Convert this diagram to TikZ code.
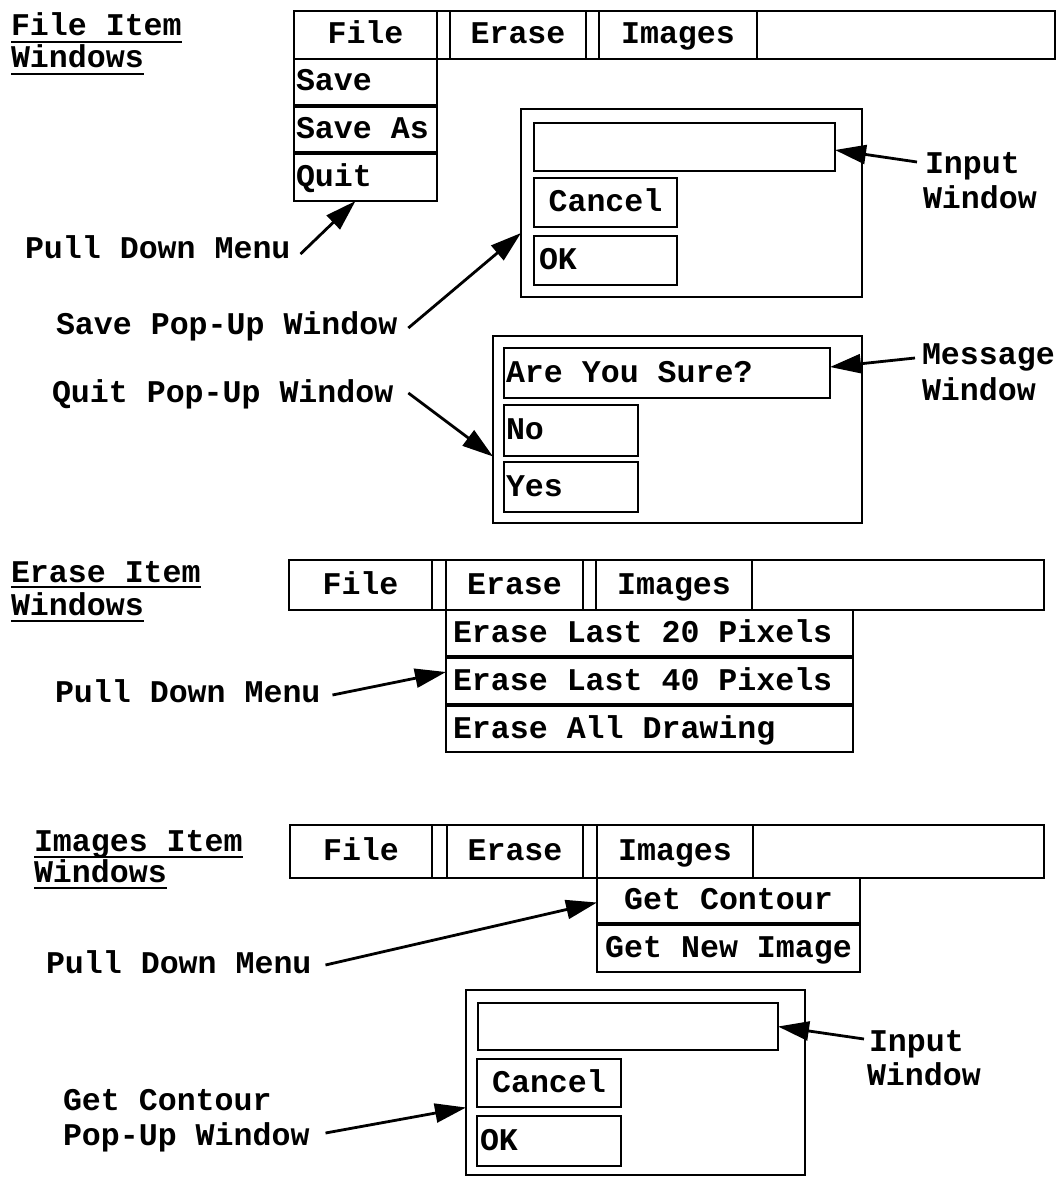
\documentclass[tikz,border=0pt]{standalone}
\usepackage{fontspec}
\usetikzlibrary{arrows.meta}
\newfontfamily\monofam{Liberation Mono}
\newcommand\tfont{\monofam\bfseries\fontsize{31.6pt}{36pt}\selectfont}
\newcommand\lb[2]{\makebox[#1][l]{#2}}
\tikzset{
  bx/.style={draw, line width=2.4pt, outer sep=0pt, inner ysep=0pt, inner xsep=0pt,
    anchor=north west, font=\tfont, text height=18pt, text depth=0pt},
  lab/.style={font=\tfont, inner sep=0pt, outer sep=0pt, anchor=base west},
  arr/.style={line width=2.8pt, -{Triangle[length=31pt,width=19pt]}},
  uline/.style={line width=2pt},
}
\begin{document}
\begin{tikzpicture}[x=1pt,y=-1pt]
\useasboundingbox (0,0) rectangle (1060,1177);

% ---------- Section 1: File item ----------
\node[lab] (t1a) at (11,36) {File Item};
\node[lab] (t1b) at (11,68) {Windows};
\draw[uline] ([yshift=-6pt]t1a.base west) -- ([yshift=-6pt]t1a.base east);
\draw[uline] ([yshift=-6pt]t1b.base west) -- ([yshift=-6pt]t1b.base east);

\node[bx, minimum width=761pt, minimum height=48pt] (bar1) at (294,11) {};
\node[bx, minimum width=143pt, minimum height=48pt] (f1) at (294,11) {File};
\node[bx, minimum width=136pt, minimum height=48pt] (e1) at (450,11) {Erase};
\node[bx, minimum width=158pt, minimum height=48pt] (i1) at (599,11) {Images};

\node[bx, inner xsep=2pt, minimum height=46pt] (save) at (294,59) {\lb{139pt}{Save}};
\node[bx, inner xsep=2pt, minimum height=45pt] (saveas) at (294,107) {\lb{139pt}{Save As}};
\node[bx, inner xsep=2pt, minimum height=47pt] (quit) at (294,154) {\lb{139pt}{Quit}};

\node[bx, minimum width=341pt, minimum height=188pt] (pop1) at (521,109) {};
\node[bx, minimum width=301pt, minimum height=48pt] (inp1) at (534,123) {};
\node[bx, minimum width=143pt, minimum height=49pt] (can1) at (534,178) {Cancel};
\node[bx, inner xsep=5pt, minimum height=49pt] (ok1) at (534,236) {\lb{133pt}{OK}};

\node[lab] (in1a) at (925,174) {Input};
\node[lab] (in1b) at (923,208) {Window};

\node[lab] (pdm1) at (25,258) {Pull Down Menu};
\node[lab] (spw) at (56,334) {Save Pop-Up Window};

\node[bx, minimum width=369pt, minimum height=187pt] (pop2) at (493,336) {};
\node[bx, inner xsep=2pt, minimum height=50pt] (msgf) at (504,348) {\lb{322pt}{Are You Sure?}};
\node[bx, inner xsep=2pt, minimum height=51pt] (no) at (504,405) {\lb{130pt}{No}};
\node[bx, inner xsep=2pt, minimum height=50pt] (yes) at (504,462) {\lb{130pt}{Yes}};

\node[lab] (msg1) at (922,364) {Message};
\node[lab] (msg2) at (922,400) {Window};
\node[lab] (qpw) at (52,402) {Quit Pop-Up Window};

\draw[arr] ([xshift=10pt,yshift=4pt]pdm1.base east) -- ([xshift=-10pt]quit.south);
\draw[arr] ([xshift=11pt,yshift=6pt]spw.base east) -- ([yshift=-30pt]pop1.west);
\draw[arr] ([xshift=15pt,yshift=9pt]qpw.base east) -- ([yshift=-27pt]pop2.west);
\draw[arr] ([xshift=-8pt,yshift=12pt]in1a.base west) -- ([yshift=-3pt]inp1.east);
\draw[arr] ([xshift=-7pt,yshift=6pt]msg1.base west) -- ([yshift=6pt]msgf.east);

% ---------- Section 2: Erase item ----------
\node[lab] (t2a) at (11,582) {Erase Item};
\node[lab] (t2b) at (11,615) {Windows};
\draw[uline] ([yshift=-5pt]t2a.base west) -- ([yshift=-5pt]t2a.base east);
\draw[uline] ([yshift=-6pt]t2b.base west) -- ([yshift=-6pt]t2b.base east);

\node[bx, minimum width=755pt, minimum height=50pt] (bar2) at (289,560) {};
\node[bx, minimum width=143pt, minimum height=50pt] (f2) at (289,560) {File};
\node[bx, minimum width=137pt, minimum height=50pt] (e2) at (446,560) {Erase};
\node[bx, minimum width=156pt, minimum height=50pt] (i2) at (596,560) {Images};

\node[bx, inner xsep=7pt, minimum height=46pt] (e20) at (446,610) {\lb{393pt}{Erase Last 20 Pixels}};
\node[bx, inner xsep=7pt, minimum height=46pt] (e40) at (446,658) {\lb{393pt}{Erase Last 40 Pixels}};
\node[bx, inner xsep=7pt, minimum height=46pt] (eall) at (446,706) {\lb{393pt}{Erase All Drawing}};

\node[lab] (pdm2) at (55,702) {Pull Down Menu};
\draw[arr] ([xshift=12pt,yshift=7pt]pdm2.base east) -- ([yshift=9pt]e40.west);

% ---------- Section 3: Images item ----------
\node[lab] (t3a) at (34,851) {Images Item};
\node[lab] (t3b) at (34,882) {Windows};
\draw[uline] ([yshift=-6pt]t3a.base west) -- ([yshift=-6pt]t3a.base east);
\draw[uline] ([yshift=-6pt]t3b.base west) -- ([yshift=-6pt]t3b.base east);

\node[bx, minimum width=754pt, minimum height=53pt] (bar3) at (290,825) {};
\node[bx, minimum width=142pt, minimum height=53pt] (f3) at (290,825) {File};
\node[bx, minimum width=136pt, minimum height=53pt] (e3) at (447,825) {Erase};
\node[bx, minimum width=156pt, minimum height=53pt] (i3) at (597,825) {Images};

\node[bx, minimum width=263pt, minimum height=45pt] (gcm) at (597,878) {Get Contour};
\node[bx, minimum width=263pt, minimum height=47pt] (gni) at (597,925) {Get New Image};

\node[lab] (pdm3) at (46,973) {Pull Down Menu};
\draw[arr] ([xshift=14pt,yshift=8pt]pdm3.base east) -- ([yshift=-2pt]gcm.west);

\node[bx, minimum width=339pt, minimum height=185pt] (pop3) at (466,990) {};
\node[bx, minimum width=300pt, minimum height=47pt] (inp3) at (478,1003) {};
\node[bx, minimum width=144pt, minimum height=48pt] (can3) at (477,1059) {Cancel};
\node[bx, inner xsep=3pt, minimum height=50pt] (ok3) at (477,1116) {\lb{138pt}{OK}};

\node[lab] (in3a) at (869,1051) {Input};
\node[lab] (in3b) at (867,1085) {Window};
\node[lab] (gc1) at (63,1110) {Get Contour};
\node[lab] (gc2) at (63,1145) {Pop-Up Window};

\draw[arr] ([xshift=-5pt,yshift=12pt]in3a.base west) -- (inp3.east);
\draw[arr] ([xshift=16pt,yshift=12pt]gc2.base east) -- ([yshift=-25pt]pop3.west);
\end{tikzpicture}
\end{document}
